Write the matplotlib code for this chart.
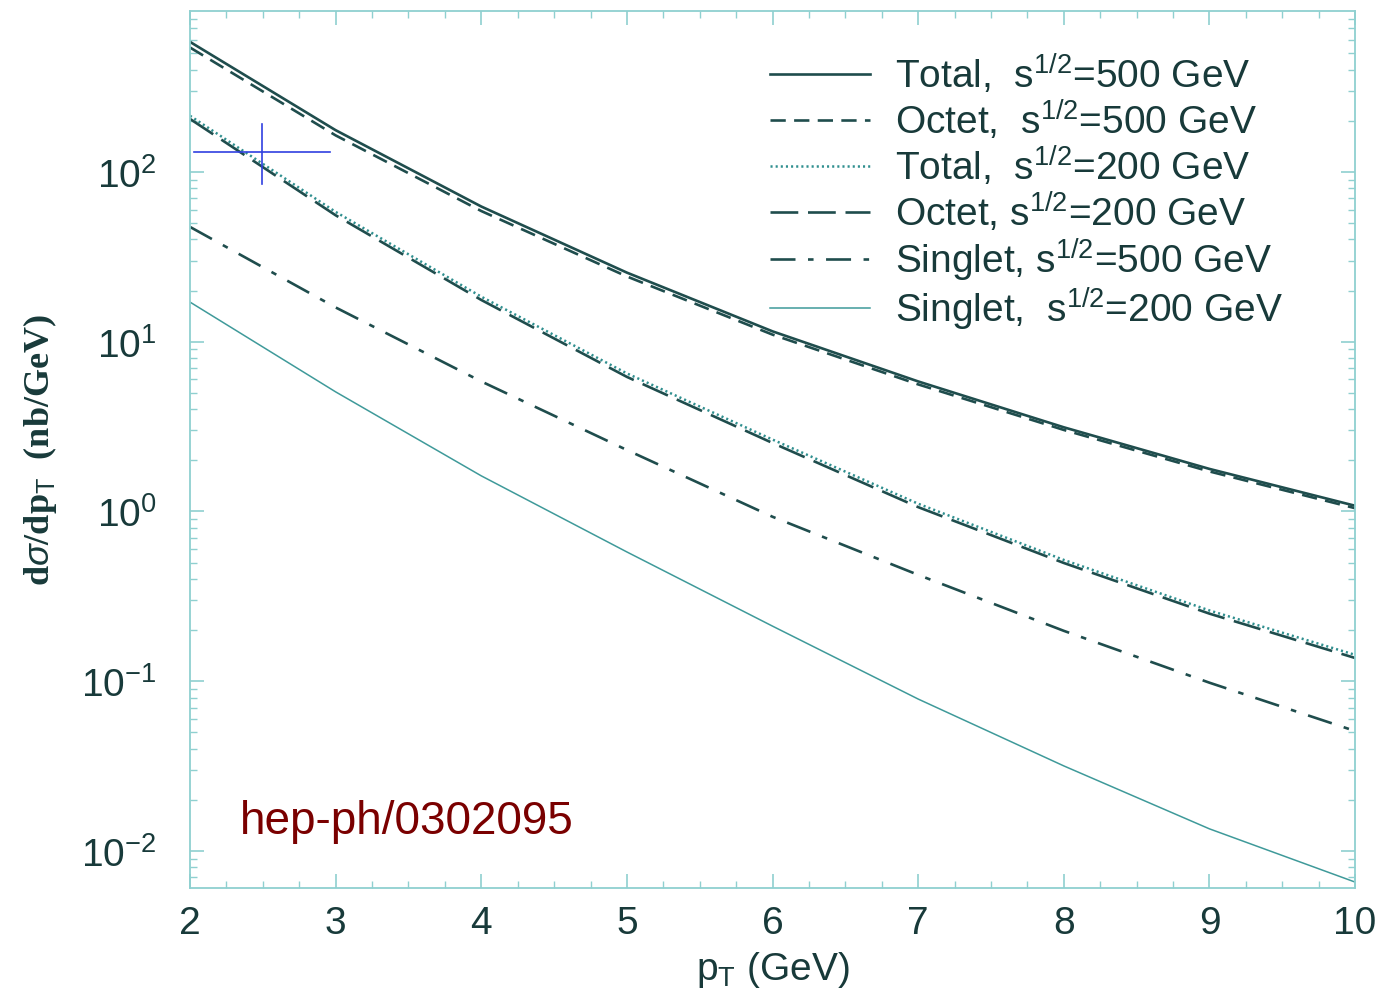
import numpy as np
import matplotlib
matplotlib.use('Agg')
import matplotlib.pyplot as plt
from matplotlib.ticker import LogLocator, MultipleLocator, NullFormatter

plt.rcParams['font.family'] = ['Liberation Sans', 'DejaVu Sans']
plt.rcParams['mathtext.fontset'] = 'custom'
plt.rcParams['mathtext.rm'] = 'Liberation Sans'
plt.rcParams['mathtext.it'] = 'Liberation Sans:italic'
plt.rcParams['mathtext.bf'] = 'Liberation Sans:bold'
plt.rcParams['lines.scale_dashes'] = False

# pT grid (GeV) and cross sections dsigma/dpT (nb/GeV)
pt = [2, 3, 4, 5, 6, 7, 8, 9, 10]
total_500 = [583, 176, 62.5, 25.5, 11.5, 5.83, 3.13, 1.78, 1.08]
octet_500 = [540, 164, 58.8, 24.2, 11.0, 5.6, 3.02, 1.72, 1.045]
total_200 = [214, 58.1, 18.4, 6.5, 2.65, 1.11, 0.518, 0.261, 0.143]
octet_200 = [205, 55.5, 17.6, 6.2, 2.53, 1.06, 0.497, 0.25, 0.137]
singlet_500 = [47.4, 15.9, 5.83, 2.30, 0.93, 0.423, 0.198, 0.098, 0.0509]
singlet_200 = [17.1, 5.06, 1.62, 0.577, 0.211, 0.0785, 0.0317, 0.0135, 0.00656]

labels = [r'Total,  s$^{1/2}$=500 GeV',
          r'Octet,  s$^{1/2}$=500 GeV',
          r'Total,  s$^{1/2}$=200 GeV',
          r'Octet, s$^{1/2}$=200 GeV',
          r'Singlet, s$^{1/2}$=500 GeV',
          r'Singlet,  s$^{1/2}$=200 GeV']

# stray blue cross-hair left on the scanned figure
cross_x, cross_y = 2.495, 131.0
cross_xr = (2.03, 2.96)
cross_yr = (85.0, 192.0)

dark = '#1f4d4d'
txt = '#183a3a'
frame = '#8fd0d0'

fig = plt.figure(figsize=(13.84, 9.95), dpi=100)
ax = fig.add_axes([0.1373, 0.1065, 0.8418, 0.8815])

ax.plot(pt, total_500, color=dark, lw=1.9, ls='-', label=labels[0])
ax.plot(pt, octet_500, color=dark, lw=1.9, ls=(0, (11, 6)), label=labels[1])
ax.plot(pt, total_200, color='#2f8f8f', lw=1.8, ls=(0, (1.5, 2.2)), label=labels[2])
ax.plot(pt, octet_200, color=dark, lw=1.9, ls=(0, (20, 7)), label=labels[3])
ax.plot(pt, singlet_500, color=dark, lw=1.9, ls=(0, (18, 9, 4, 9)), label=labels[4])
ax.plot(pt, singlet_200, color='#3f9a9a', lw=1.1, ls='-', label=labels[5])

ax.plot(cross_xr, [cross_y, cross_y], color='#3040e0', lw=1.2)
ax.plot([cross_x, cross_x], cross_yr, color='#3040e0', lw=1.2)

ax.set_yscale('log')
ax.set_xlim(2, 10)
ax.set_ylim(0.00605, 887)

ax.xaxis.set_major_locator(MultipleLocator(1))
ax.xaxis.set_minor_locator(MultipleLocator(0.25))
ax.yaxis.set_major_locator(LogLocator(base=10, numticks=20))
ax.yaxis.set_minor_locator(LogLocator(base=10, subs=np.arange(2, 10), numticks=20))
ax.yaxis.set_minor_formatter(NullFormatter())

ax.tick_params(which='both', direction='in', top=True, right=True, color=frame)
ax.tick_params(which='major', length=10, width=1.2)
ax.tick_params(which='minor', length=5, width=1.0)
ax.tick_params(axis='x', which='major', pad=12, labelsize=28, labelcolor=txt)
ax.tick_params(axis='y', which='major', pad=24, labelsize=28, labelcolor=txt)
for s in ax.spines.values():
    s.set_color(frame)
    s.set_linewidth(1.3)

ax.set_xlabel(r'p$_{\mathrm{T}}$ (GeV)', fontsize=28, color=txt, labelpad=6)
ax.set_ylabel(r'd$\sigma$/dp$_{\mathrm{T}}$  (nb/GeV)', fontsize=26, color=txt,
              fontweight='bold', family=['Liberation Serif', 'DejaVu Serif'], labelpad=16)

leg = ax.legend(loc='upper left', bbox_to_anchor=(0.498, 0.954), frameon=False,
                borderpad=0, borderaxespad=0,
                fontsize=28, handlelength=2.57, handletextpad=0.64, labelspacing=0.05)
for t in leg.get_texts():
    t.set_color(txt)

ax.text(0.043, 0.0764, 'hep-ph/0302095', transform=ax.transAxes, fontsize=33,
        color='#7a0000', va='center')

fig.savefig('out.png', dpi=100)
